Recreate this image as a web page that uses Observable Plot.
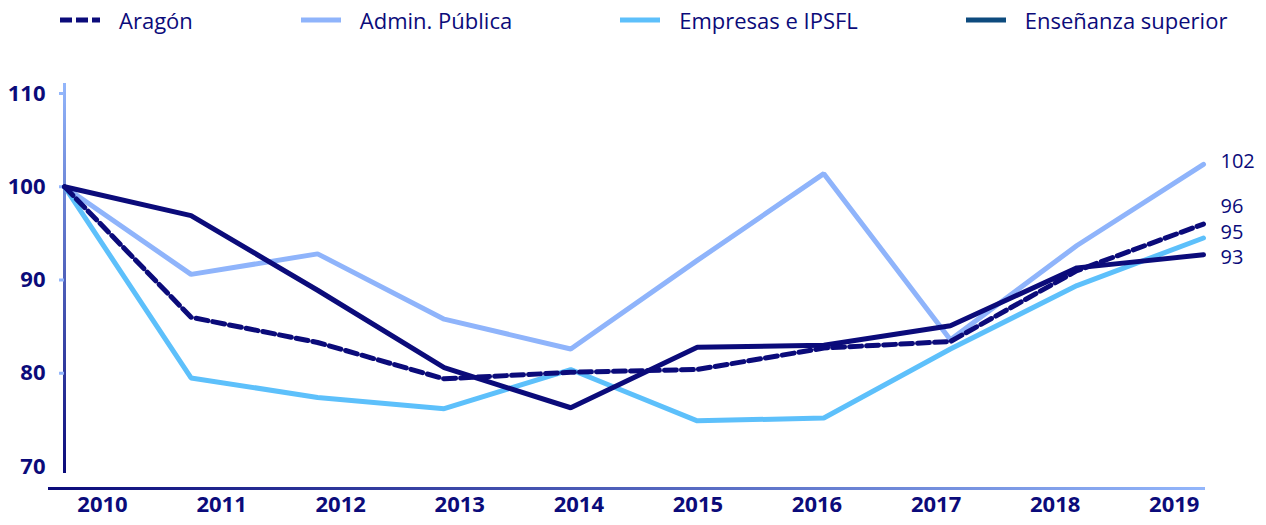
<!DOCTYPE html>
<html>
<head>
<meta charset="utf-8">
<script src="https://cdn.jsdelivr.net/npm/d3@7"></script>
<script src="https://cdn.jsdelivr.net/npm/@observablehq/plot@0.6"></script>
<style>
  html, body { margin: 0; padding: 0; background: #fff; }
  body { width: 1266px; height: 525px; overflow: hidden; font-family: "Open Sans", sans-serif; }
  #legend { height: 40px; display: flex; align-items: center; padding-left: 60px; gap: 108px; color: #0b0b7a; font-size: 22px; }
  .item { display: flex; align-items: center; white-space: nowrap; }
  .item svg { margin-right: 19px; display: block; }
  #chart svg { display: block; }
</style>
</head>
<body>
<div id="legend"></div>
<div id="chart"></div>
<script>
const years = [2010, 2011, 2012, 2013, 2014, 2015, 2016, 2017, 2018, 2019];
const seriesNames = ["Aragón", "Admin. Pública", "Empresas e IPSFL", "Enseñanza superior"];
const aragon     = [100, 86.0, 83.3, 79.4, 80.1, 80.4, 82.7, 83.4, 91.0, 96.0];
const adminPub   = [100, 90.6, 92.8, 85.8, 82.6, 92.1, 101.4, 83.6, 93.7, 102.4];
const empresas   = [100, 79.5, 77.4, 76.2, 80.4, 74.9, 75.2, 82.6, 89.4, 94.5];
const ensenanza  = [100, 96.9, 88.9, 80.6, 76.3, 82.8, 83.0, 85.1, 91.3, 92.7];
const yTicks = [70, 80, 90, 100, 110];

const navy = "#0b0b7a";
const lineColors = {"Aragón": navy, "Admin. Pública": "#8fb4fb", "Empresas e IPSFL": "#5dc0fb", "Enseñanza superior": navy};
const legendColors = {"Aragón": navy, "Admin. Pública": "#8fb4fb", "Empresas e IPSFL": "#5dc0fb", "Enseñanza superior": "#0d4b7e"};
const endLabelDy = {"Aragón": -17, "Admin. Pública": -3, "Empresas e IPSFL": -5, "Enseñanza superior": 3};

const valuesBySeries = {"Aragón": aragon, "Admin. Pública": adminPub, "Empresas e IPSFL": empresas, "Enseñanza superior": ensenanza};
const data = seriesNames.flatMap(s => years.map((y, i) => ({series: s, year: y, value: valuesBySeries[s][i]})));

// Legend
const legend = d3.select("#legend");
seriesNames.forEach(s => {
  const it = legend.append("div").attr("class", "item");
  const sv = it.append("svg").attr("width", 40).attr("height", 10);
  sv.append("line").attr("x1", 0).attr("x2", 40).attr("y1", 5).attr("y2", 5)
    .attr("stroke", legendColors[s]).attr("stroke-width", 5)
    .attr("stroke-dasharray", s === "Aragón" ? "12,4" : null);
  it.append("span").text(s);
});

const yDomain = [69.25, 111.07];
const drawOrder = ["Admin. Pública", "Empresas e IPSFL", "Enseñanza superior", "Aragón"];

const plot = Plot.plot({
  width: 1266,
  height: 485,
  marginLeft: 64,
  marginRight: 63,
  marginTop: 43,
  marginBottom: 52,
  style: {fontFamily: "Open Sans", fontSize: "22px", color: navy, background: "white"},
  x: {domain: [2010, 2019], axis: null},
  y: {domain: yDomain},
  marks: [
    Plot.ruleX([2010], {stroke: "url(#gy)", strokeWidth: 3}),
    Plot.axisY({ticks: yTicks.filter(t => t > 70), tickSize: 5, tickPadding: 14, stroke: "url(#gy)", strokeWidth: 3, fill: navy, fontWeight: "bold", fontSize: 22, label: null}),
    Plot.axisY({ticks: yTicks.filter(t => t === 70), tickSize: 0, tickPadding: 19, fill: navy, fontWeight: "bold", fontSize: 22, label: null}),
    Plot.ruleY([yDomain[0]], {dy: 15, insetLeft: -16, insetRight: -2, stroke: "url(#gx)", strokeWidth: 3}),
    Plot.text(years, {x: d => 2010.3 + (d - 2010) * 0.941, text: d => String(d), frameAnchor: "bottom", dy: 38, fontWeight: "bold", fill: navy, fontSize: 22}),
    ...drawOrder.map(s => Plot.line(data.filter(d => d.series === s), {
      x: "year", y: "value", stroke: lineColors[s], strokeWidth: 5,
      strokeDasharray: s === "Aragón" ? "12,5" : null, strokeLinejoin: "miter"
    })),
    ...seriesNames.map(s => Plot.text(data.filter(d => d.series === s && d.year === years[years.length - 1]), {
      x: "year", y: "value", text: d => String(Math.round(d.value)), dx: 17, dy: endLabelDy[s],
      textAnchor: "start", fill: navy, fontSize: 20
    }))
  ]
});

// gradients for axis lines
const sx = plot.scale("x"), sy = plot.scale("y");
const svgSel = d3.select(plot);
const defs = svgSel.insert("defs", ":first-child");
const gy = defs.append("linearGradient").attr("id", "gy").attr("gradientUnits", "userSpaceOnUse")
  .attr("x1", 0).attr("x2", 0).attr("y1", sy.range[1]).attr("y2", sy.range[0]);
gy.append("stop").attr("offset", "0%").attr("stop-color", "#93b6fb");
gy.append("stop").attr("offset", "100%").attr("stop-color", navy);
const gx = defs.append("linearGradient").attr("id", "gx").attr("gradientUnits", "userSpaceOnUse")
  .attr("x1", sx.range[0] - 16).attr("x2", sx.range[1] + 2).attr("y1", 0).attr("y2", 0);
gx.append("stop").attr("offset", "0%").attr("stop-color", navy);
gx.append("stop").attr("offset", "100%").attr("stop-color", "#93b6fb");

document.getElementById("chart").appendChild(plot);
</script>
</body>
</html>
